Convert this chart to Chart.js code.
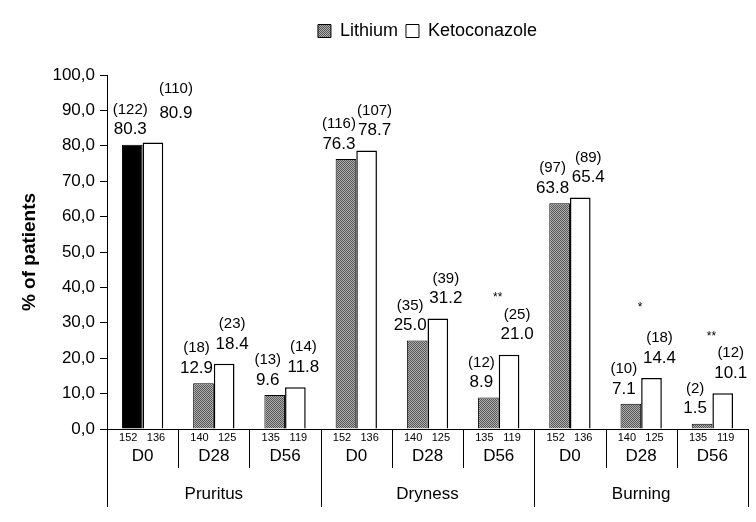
<!DOCTYPE html>
<html>
<head>
<meta charset="utf-8">
<script src="https://cdn.jsdelivr.net/npm/chart.js@4"></script>
<style>
  html, body { margin: 0; padding: 0; background: #fff; }
  #wrap { width: 756px; height: 522px; }
</style>
</head>
<body>
<div id="wrap"><canvas id="chart" width="756" height="522"></canvas></div>
<script>
const Visits = ['D0', 'D28', 'D56', 'D0', 'D28', 'D56', 'D0', 'D28', 'D56'];
const Symptoms = ['Pruritus', 'Dryness', 'Burning'];
const Lithium_Pct = [80.3, 12.9, 9.6, 76.3, 25.0, 8.9, 63.8, 7.1, 1.5];
const Keto_Pct = [80.9, 18.4, 11.8, 78.7, 31.2, 21.0, 65.4, 14.4, 10.1];
const Lithium_Count = [122, 18, 13, 116, 35, 12, 97, 10, 2];
const Keto_Count = [110, 23, 14, 107, 39, 25, 89, 18, 12];
const Lithium_Total = [152, 140, 135, 152, 140, 135, 152, 140, 135];
const Keto_Total = [136, 125, 119, 136, 125, 119, 136, 125, 119];
const Significance = ['', '', '', '', '', '**', '', '*', '**'];
const Y_Ticks = [0, 10, 20, 30, 40, 50, 60, 70, 80, 90, 100];

const FONT = '"Liberation Sans", Arial, sans-serif';

// stippled grey fill for the lithium bars
function Make_Stipple() {
    const C = document.createElement('canvas');
    C.width = 2; C.height = 2;
    const G = C.getContext('2d');
    G.fillStyle = '#b0b0b0'; G.fillRect(0, 0, 2, 2);
    G.fillStyle = '#555555'; G.fillRect(0, 0, 1, 1); G.fillRect(1, 1, 1, 1);
    return G.createPattern(C, 'repeat');
}
const Stipple = Make_Stipple();
const Lithium_Fill = Lithium_Pct.map((v, i) => i === 0 ? '#000000' : Stipple);

// extra room under the legend
const Legend_Gap = {
    id: 'legendGap',
    beforeInit(chart) {
        const Orig_Fit = chart.legend.fit;
        chart.legend.fit = function () {
            Orig_Fit.bind(chart.legend)();
            this.height += 25;
        };
    }
};

const Bar_Labels = {
    id: 'barLabels',
    afterDatasetsDraw(chart) {
        const { ctx } = chart;
        const Li = chart.getDatasetMeta(0).data;
        const Ke = chart.getDatasetMeta(1).data;
        ctx.save();
        ctx.fillStyle = '#000';
        ctx.textAlign = 'center';
        ctx.textBaseline = 'middle';
        const Draw_Pair = (bar, dx, lift, gap, val, n) => {
            const x = bar.x + dx;
            const y = bar.y - lift;
            ctx.font = '17px ' + FONT;
            ctx.fillText(val.toFixed(1), x, y);
            ctx.font = '15px ' + FONT;
            ctx.fillText('(' + n + ')', x, y - gap);
            return y - gap;
        };
        Li.forEach((bar, i) => Draw_Pair(bar, i === 0 ? -2 : -7, 15, 20, Lithium_Pct[i], Lithium_Count[i]));
        Ke.forEach((bar, i) => {
            const First = i === 0;
            const top = Draw_Pair(bar, First ? 23 : 8, First ? 29 : 20, First ? 25 : 20, Keto_Pct[i], Keto_Count[i]);
            if (Significance[i]) {
                ctx.font = '12px ' + FONT;
                const sx = bar.x - bar.width / 2 - 1;
                ctx.fillText(Significance[i], sx, top - (Significance[i].length === 1 ? 30 : 17));
            }
        });
        ctx.restore();
    }
};

const Axis_Table = {
    id: 'axisTable',
    afterDraw(chart) {
        const { ctx, chartArea } = chart;
        const X = chart.scales.x;
        const Li = chart.getDatasetMeta(0).data;
        const Ke = chart.getDatasetMeta(1).data;
        const Base = chartArea.bottom;
        const Step = (chartArea.right - chartArea.left) / Visits.length;
        ctx.save();
        ctx.strokeStyle = '#000';
        ctx.lineWidth = 1;
        ctx.fillStyle = '#000';
        ctx.textAlign = 'center';
        ctx.textBaseline = 'middle';
        for (let i = 0; i <= Visits.length; i++) {
            const x = Math.round(chartArea.left + i * Step) + 0.5;
            const Long = i % 3 === 0;
            ctx.beginPath();
            ctx.moveTo(x, Base);
            ctx.lineTo(x, Base + (Long ? 78 : 39));
            ctx.stroke();
        }
        Visits.forEach((v, i) => {
            ctx.font = '11px ' + FONT;
            ctx.fillText(String(Lithium_Total[i]), Li[i].x - 4, Base + 9);
            ctx.fillText(String(Keto_Total[i]), Ke[i].x + 3, Base + 9);
            ctx.font = '17px ' + FONT;
            ctx.fillText(v, X.getPixelForValue(i), Base + 27);
        });
        Symptoms.forEach((s, g) => {
            ctx.font = '17px ' + FONT;
            ctx.fillText(s, chartArea.left + (g * 3 + 1.5) * Step, Base + 65);
        });
        ctx.restore();
    }
};

new Chart(document.getElementById('chart'), {
    type: 'bar',
    data: {
        labels: Visits,
        datasets: [
            { label: 'Lithium', data: Lithium_Pct, backgroundColor: Lithium_Fill, borderColor: '#000', borderWidth: 1, borderSkipped: 'bottom' },
            { label: 'Ketoconazole', data: Keto_Pct, backgroundColor: '#ffffff', borderColor: '#000', borderWidth: 1.5, borderSkipped: 'bottom' }
        ]
    },
    options: {
        responsive: false,
        animation: false,
        devicePixelRatio: 1,
        layout: { padding: { left: 18, right: 8, top: 14, bottom: 0 } },
        categoryPercentage: 0.58,
        barPercentage: 1.0,
        scales: {
            y: {
                min: 0, max: 100,
                afterBuildTicks(axis) { axis.ticks = Y_Ticks.map(v => ({ value: v })); },
                afterFit(axis) { axis.width = 89; },
                grid: { drawOnChartArea: false, drawTicks: true, tickLength: 7, color: '#000' },
                border: { display: true, color: '#000', width: 1 },
                ticks: {
                    color: '#000', padding: 5,
                    font: { family: FONT, size: 17 },
                    callback: v => v.toFixed(1).replace('.', ',')
                },
                title: { display: true, text: '% of patients', color: '#000', padding: { top: 0, bottom: 8 }, font: { family: FONT, size: 19, weight: 'bold' } }
            },
            x: {
                afterFit(axis) { axis.height = 93; },
                grid: { display: false },
                border: { display: true, color: '#000', width: 1 },
                ticks: { display: false }
            }
        },
        plugins: {
            legend: {
                position: 'top',
                fullSize: false,
                labels: {
                    color: '#000', boxWidth: 13, boxHeight: 13, padding: 8,
                    font: { family: FONT, size: 18 },
                    generateLabels: () => [
                        { text: 'Lithium', fillStyle: Stipple, strokeStyle: '#000', lineWidth: 1, datasetIndex: 0 },
                        { text: 'Ketoconazole', fillStyle: '#fff', strokeStyle: '#000', lineWidth: 1, datasetIndex: 1 }
                    ]
                }
            },
            tooltip: { enabled: false }
        }
    },
    plugins: [Legend_Gap, Bar_Labels, Axis_Table]
});
</script>
</body>
</html>
